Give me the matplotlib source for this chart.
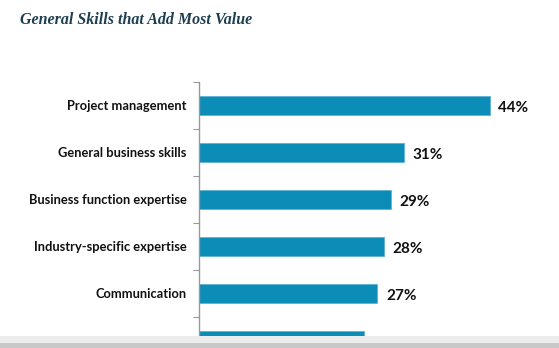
import matplotlib.pyplot as plt
from matplotlib.patches import Rectangle

# data (last bar is cut off by the window edge)
skills = ["Project management", "General business skills", "Business function expertise",
          "Industry-specific expertise", "Communication", ""]
values = [44, 31, 29, 28, 27, 25]
shown = [True, True, True, True, True, False]

BAR = "#0b8db8"
W, H = 559, 348

fig = plt.figure(figsize=(W / 100, H / 100), dpi=100)
fig.patch.set_facecolor("white")

# axes: left edge at x=199, top at y=82, each category 47px tall
top, step = 82, 47
n = len(skills)
bottom = top + n * step
ax = fig.add_axes([199 / W, 1 - bottom / H, 380 / W, n * step / H])

pos = list(range(n))
ax.barh(pos, values, height=0.39, color=BAR, edgecolor="#5fb4d3", linewidth=0.6)
ax.set_ylim(n - 0.5, -0.5)
ax.set_xlim(0, 380 / 6.61)

for y, v, s in zip(pos, values, shown):
    if s:
        ax.text(v + 1.3, y + 0.05, f"{v}%", va="center", ha="left",
                fontsize=11, fontweight="bold", family="Lato", color="#111111")

ax.set_yticks(pos)
ax.set_yticklabels(skills, fontsize=9.3, fontweight="bold", family="Lato", color="#111111")
ax.set_yticks([p + 0.5 for p in pos[:-1]] + [-0.5], minor=True)
ax.tick_params(axis="y", which="major", length=0, pad=9)
ax.tick_params(axis="y", which="minor", length=4, color="#999999", width=0.8, direction="out")
ax.set_xticks([])
for side in ["top", "right", "bottom"]:
    ax.spines[side].set_visible(False)
ax.spines["left"].set_color("#999999")
ax.spines["left"].set_linewidth(1.0)

fig.text(20 / W, 1 - 20 / H, "General Skills that Add Most Value", ha="left", va="center",
         fontsize=11.5, fontweight="bold", style="italic", family="Liberation Serif", color="#1d3e50")

# grey window strip at the bottom
fig.patches.append(Rectangle((0, 0), 1, 12 / H, transform=fig.transFigure,
                             facecolor="#ececec", edgecolor="none", zorder=10))
fig.patches.append(Rectangle((0, 0), 1, 5 / H, transform=fig.transFigure,
                             facecolor="#c8c8c8", edgecolor="none", zorder=11))

fig.savefig("out.png", dpi=100)
